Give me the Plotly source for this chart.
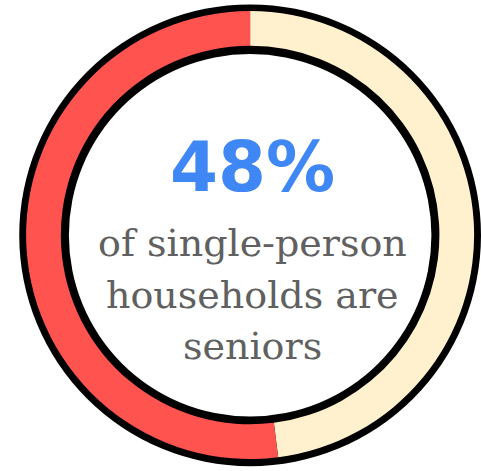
import plotly.graph_objects as go

labels = ["Seniors", "Others"]
values = [48, 52]
colors = ["#FFF0CE", "#FF5350"]
headline = "48%"
caption_lines = ["of single-person", "households are", "seniors"]

W, H = 481, 471
fig = go.Figure()

# black outline ring
fig.add_trace(go.Pie(
    values=[1], labels=["outline"], marker=dict(colors=["#000000"]),
    hole=0.785, sort=False, textinfo="none", hoverinfo="skip",
    domain=dict(x=[0.04, 1.0], y=[0.008, 0.993]), showlegend=False,
))
# coloured data ring
fig.add_trace(go.Pie(
    values=values, labels=labels, marker=dict(colors=colors, line=dict(width=0)),
    hole=0.845, sort=False, direction="counterclockwise", rotation=0,
    textinfo="none", domain=dict(x=[0.0543, 0.9857], y=[0.0254, 0.9766]),
    showlegend=False,
))

ann = [dict(text=headline, x=252 / W, y=1 - 167 / H, xref="paper", yref="paper",
            showarrow=False, xanchor="center", yanchor="middle",
            font=dict(family="DejaVu Sans", size=69, color="#3F87F5", weight=900))]
ys = [243, 295, 346]
for line, yp in zip(caption_lines, ys):
    ann.append(dict(text=line, x=252 / W, y=1 - yp / H, xref="paper", yref="paper",
                    showarrow=False, xanchor="center", yanchor="middle",
                    font=dict(family="DejaVu Serif", size=38, color="#606060")))

fig.update_layout(width=W, height=H, margin=dict(l=0, r=0, t=0, b=0),
                  paper_bgcolor="white", plot_bgcolor="white", annotations=ann)
fig.write_html("out.html")
